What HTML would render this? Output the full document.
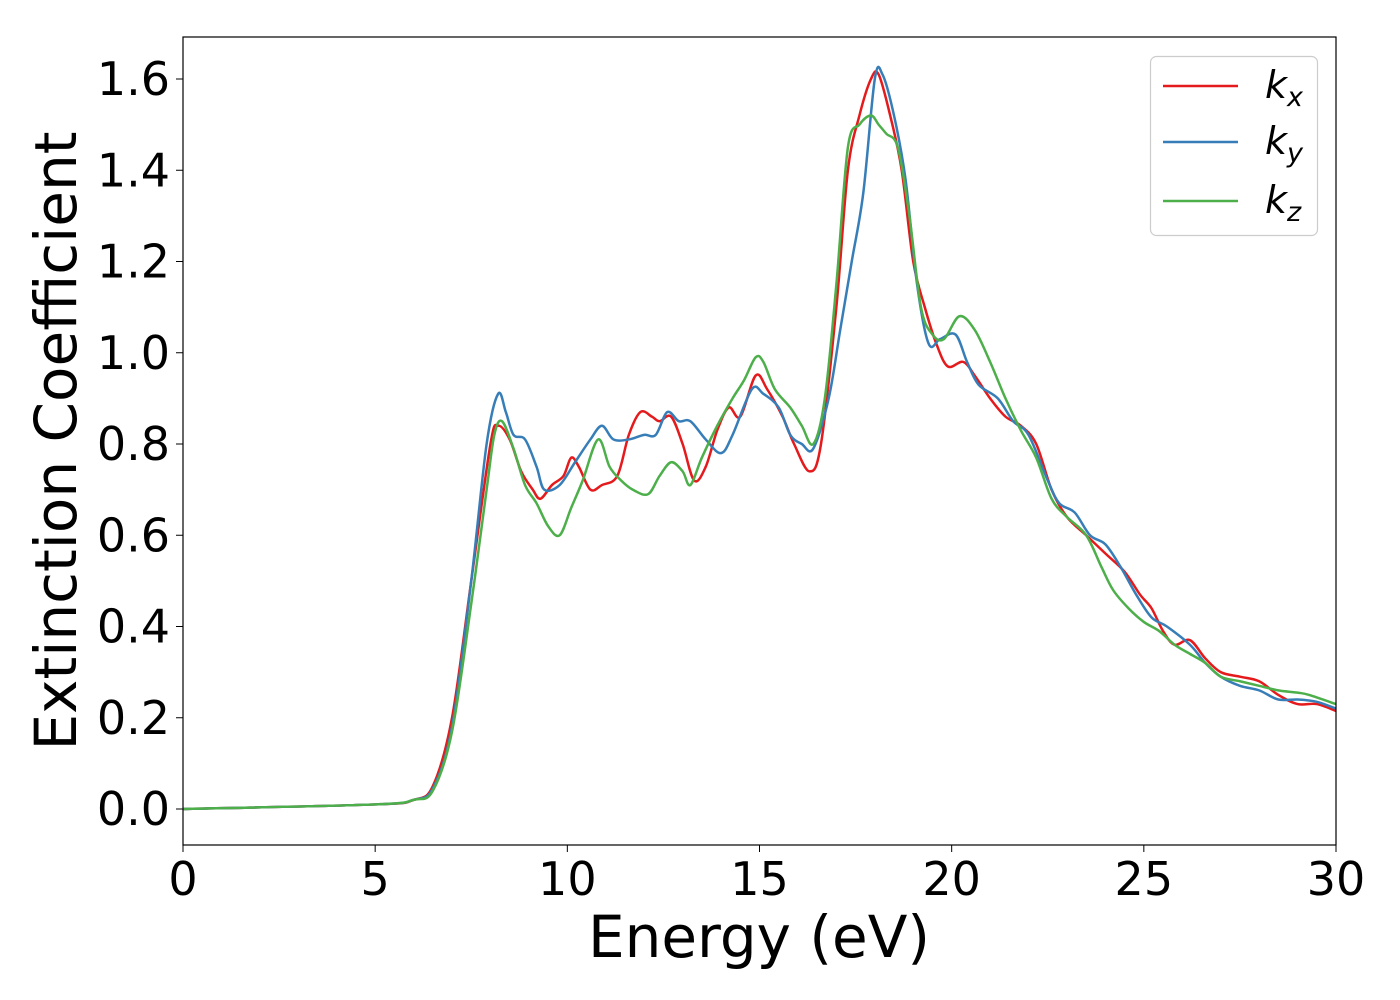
<!DOCTYPE html>
<html><head><meta charset="utf-8"><style>
html,body{margin:0;padding:0;background:#fff;}
svg{display:block;font-family:"DejaVu Sans","Liberation Sans",sans-serif;}
</style></head><body>
<svg id="chart" width="1400" height="1000">
<g id="plot"></g>
<rect x="183" y="37" width="1153" height="808" fill="none" stroke="#000" stroke-width="1.2"/>
<g id="ticks"></g>
<text x="759" y="957" font-size="58" text-anchor="middle">Energy (eV)</text>
<text transform="translate(76,441) rotate(-90)" font-size="58" text-anchor="middle">Extinction Coefficient</text>
<g>
<rect x="1150.5" y="56.5" width="167" height="179" rx="6" fill="#fff" fill-opacity="0.8" stroke="#ccc" stroke-width="1.2"/>
<line x1="1163" y1="86" x2="1238" y2="86" stroke="#e41a1c" stroke-width="2.5"/>
<text x="1265" y="98" font-size="38" font-style="italic">k<tspan font-size="27" dy="8">x</tspan></text>
<line x1="1163" y1="142" x2="1238" y2="142" stroke="#377eb8" stroke-width="2.5"/>
<text x="1265" y="154" font-size="38" font-style="italic">k<tspan font-size="27" dy="8">y</tspan></text>
<line x1="1163" y1="201" x2="1238" y2="201" stroke="#4daf4a" stroke-width="2.5"/>
<text x="1265" y="213" font-size="38" font-style="italic">k<tspan font-size="27" dy="8">z</tspan></text>
</g>
</svg>
<script>
const xTicks=[0,5,10,15,20,25,30];
const yTicks=[0.0,0.2,0.4,0.6,0.8,1.0,1.2,1.4,1.6];
const kxE=[0,5,6,6.5,7,7.5,8,8.2,8.5,8.8,9.1,9.3,9.6,9.9,10.1,10.3,10.6,10.9,11.3,11.6,11.9,12.2,12.4,12.7,13.0,13.3,13.6,13.9,14.2,14.5,14.9,15.2,15.6,15.9,16.3,16.6,17,17.3,17.6,17.9,18.1,18.4,18.7,19,19.3,19.6,19.9,20.3,20.6,21,21.4,21.8,22.2,22.6,23,23.5,24,24.5,24.9,25.2,25.5,25.8,26.2,26.6,27,27.5,28,28.5,29,29.5,30];
const kxV=[0,0.01,0.02,0.05,0.2,0.5,0.8,0.84,0.81,0.74,0.7,0.68,0.71,0.73,0.77,0.75,0.7,0.71,0.73,0.82,0.87,0.86,0.85,0.86,0.8,0.72,0.75,0.83,0.88,0.86,0.95,0.92,0.86,0.8,0.74,0.8,1.1,1.4,1.52,1.6,1.61,1.52,1.4,1.2,1.1,1.02,0.97,0.98,0.95,0.9,0.86,0.84,0.8,0.7,0.64,0.6,0.56,0.52,0.47,0.44,0.39,0.36,0.37,0.33,0.3,0.29,0.28,0.25,0.23,0.23,0.215];
const kyE=[0,5,6,6.5,7,7.5,7.9,8.2,8.4,8.6,8.9,9.2,9.4,9.8,10.2,10.6,10.9,11.2,11.6,12,12.3,12.6,12.9,13.2,13.6,14,14.3,14.8,15.1,15.5,15.8,16.1,16.4,16.8,17.1,17.4,17.7,18,18.2,18.5,18.8,19.1,19.4,19.7,20.1,20.4,20.7,21.2,21.6,22,22.5,22.8,23.2,23.6,24,24.4,24.8,25.2,25.6,26.2,26.6,27,27.5,28,28.5,29,29.5,30];
const kyV=[0,0.01,0.02,0.045,0.18,0.5,0.8,0.91,0.87,0.82,0.81,0.75,0.7,0.71,0.76,0.81,0.84,0.81,0.81,0.82,0.82,0.87,0.85,0.85,0.81,0.78,0.82,0.92,0.91,0.88,0.82,0.8,0.79,0.9,1.05,1.2,1.35,1.6,1.61,1.52,1.38,1.15,1.02,1.03,1.04,0.98,0.93,0.9,0.85,0.82,0.72,0.67,0.65,0.6,0.58,0.53,0.47,0.42,0.4,0.36,0.32,0.29,0.27,0.26,0.24,0.24,0.235,0.22];
const kzE=[0,5,6,6.5,7,7.5,7.9,8.1,8.3,8.6,8.9,9.2,9.5,9.8,10.1,10.4,10.8,11.1,11.4,11.7,12.1,12.4,12.7,13.0,13.2,13.5,13.9,14.3,14.6,14.9,15.1,15.4,15.8,16.1,16.4,16.7,17,17.3,17.6,17.9,18.1,18.3,18.6,18.9,19.2,19.5,19.8,20.2,20.6,21,21.4,21.8,22.2,22.6,23,23.5,23.9,24.2,24.6,25,25.4,25.8,26.2,26.6,27,27.5,28,28.5,29,29.3,30];
const kzV=[0,0.01,0.02,0.04,0.17,0.45,0.7,0.82,0.85,0.79,0.71,0.67,0.62,0.6,0.66,0.72,0.81,0.75,0.72,0.7,0.69,0.73,0.76,0.74,0.71,0.77,0.84,0.9,0.94,0.99,0.98,0.92,0.88,0.84,0.8,0.9,1.15,1.45,1.5,1.52,1.5,1.48,1.45,1.3,1.1,1.04,1.03,1.08,1.05,0.98,0.9,0.83,0.77,0.68,0.64,0.6,0.53,0.48,0.44,0.41,0.39,0.36,0.34,0.32,0.29,0.28,0.27,0.26,0.255,0.25,0.23];
const NS='http://www.w3.org/2000/svg';
function sx(v){return 183+v*(1153/30);}
function sy(v){return 809-v*(730/1.6);}
function pathD(E,V){
  const p=E.map((e,i)=>[sx(e),sy(V[i])]);
  let d='M'+p[0][0]+','+p[0][1];
  for(let i=0;i<p.length-1;i++){
    const p0=p[Math.max(i-1,0)],p1=p[i],p2=p[i+1],p3=p[Math.min(i+2,p.length-1)];
    const c1=[p1[0]+(p2[0]-p0[0])/6,p1[1]+(p2[1]-p0[1])/6];
    const c2=[p2[0]-(p3[0]-p1[0])/6,p2[1]-(p3[1]-p1[1])/6];
    d+=' C'+c1[0]+','+c1[1]+' '+c2[0]+','+c2[1]+' '+p2[0]+','+p2[1];
  }
  return d;
}
const plot=document.getElementById('plot');
[[kxE,kxV,'#e41a1c','series-kx'],[kyE,kyV,'#377eb8','series-ky'],[kzE,kzV,'#4daf4a','series-kz']].forEach(s=>{
  const el=document.createElementNS(NS,'path');
  el.setAttribute('d',pathD(s[0],s[1]));
  el.setAttribute('fill','none');el.setAttribute('stroke',s[2]);el.setAttribute('stroke-width','2.5');
  
  
  plot.appendChild(el);
});
const tg=document.getElementById('ticks');
xTicks.forEach(t=>{
  const l=document.createElementNS(NS,'line');
  l.setAttribute('x1',sx(t));l.setAttribute('x2',sx(t));l.setAttribute('y1',845);l.setAttribute('y2',852);l.setAttribute('stroke','#000');
  
  
  tg.appendChild(l);
  const tx=document.createElementNS(NS,'text');
  tx.setAttribute('x',sx(t));tx.setAttribute('y',895);tx.setAttribute('font-size','46');tx.setAttribute('text-anchor','middle');
  tx.textContent=t;
  
  
  tg.appendChild(tx);
});
yTicks.forEach(t=>{
  const l=document.createElementNS(NS,'line');
  l.setAttribute('x1',176);l.setAttribute('x2',183);l.setAttribute('y1',sy(t));l.setAttribute('y2',sy(t));l.setAttribute('stroke','#000');
  
  
  tg.appendChild(l);
  const tx=document.createElementNS(NS,'text');
  tx.setAttribute('x',170);tx.setAttribute('y',sy(t)+16);tx.setAttribute('font-size','46');tx.setAttribute('text-anchor','end');
  tx.textContent=t.toFixed(1);
  
  
  tg.appendChild(tx);
});
</script>
</body></html>
